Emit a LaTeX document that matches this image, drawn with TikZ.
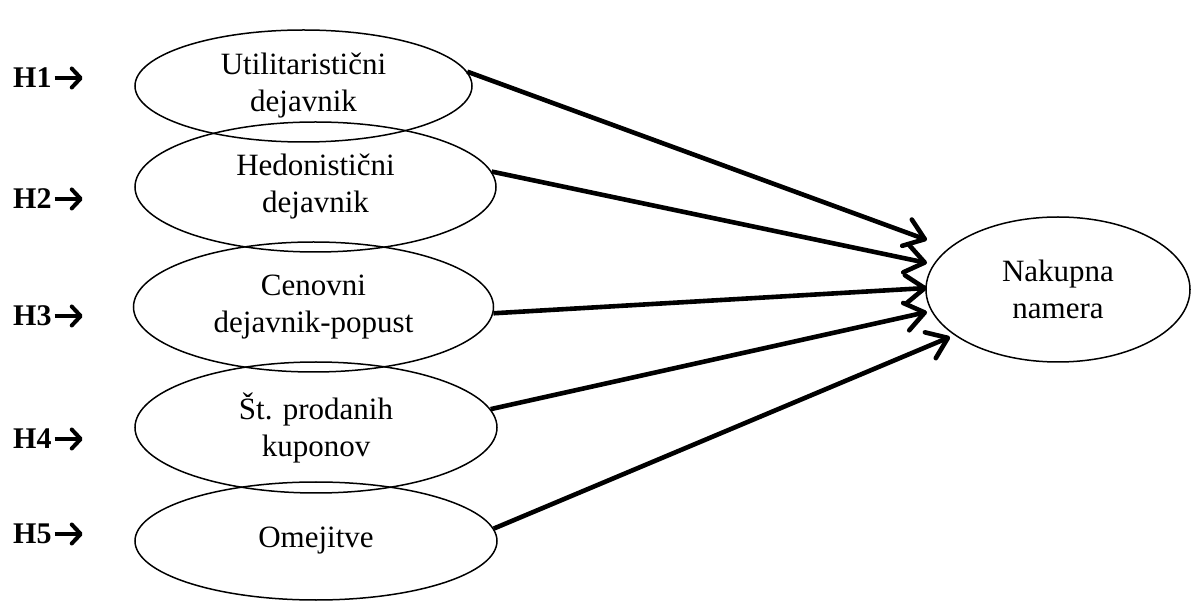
\documentclass[tikz,border=0pt]{standalone}
\usepackage{fontspec}
\setmainfont{Liberation Serif}
\usetikzlibrary{shapes.geometric,arrows.meta}
\tikzset{
  factor/.style={ellipse, draw=black, line width=1.5pt, inner sep=0pt, align=center,
    font=\fontsize{31pt}{37pt}\selectfont},
  hlabel/.style={anchor=west, inner sep=0pt, font=\fontsize{30pt}{36pt}\selectfont\bfseries},
  hsign/.style={line width=4pt, -{Straight Barb[length=9pt,width=19pt,line width=4pt,round]}},
  link/.style={line width=4.6pt, -{Straight Barb[length=19pt,width=28pt,line width=4.6pt,round]}}
}
\begin{document}
\begin{tikzpicture}[x=1pt,y=-1pt]
\useasboundingbox (0,0) rectangle (1192,601);
\node[factor, minimum width=337pt, minimum height=112pt] (u) at (303.5,86) {Utilitaristični\\dejavnik};
\node[factor, minimum width=361pt, minimum height=130pt] (h) at (315.5,187) {Hedonistični\\dejavnik};
\node[factor, minimum width=360pt, minimum height=130pt] (c) at (313.5,307) {Cenovni\\dejavnik-popust};
\node[factor, minimum width=362pt, minimum height=131pt] (s) at (316,427.5) {Št. prodanih\\kuponov};
\node[factor, minimum width=362pt, minimum height=118pt] (o) at (316,541) {Omejitve};
\node[factor, minimum width=264pt, minimum height=145pt] (n) at (1058,289.5) {Nakupna\\namera};
\node[hlabel] (h1) at (13,78) {H1};
\node[hlabel] (h2) at (13,199) {H2};
\node[hlabel] (h3) at (13,316) {H3};
\node[hlabel] (h4) at (13,439) {H4};
\node[hlabel] (h5) at (13,534) {H5};
\draw[hsign] ([xshift=3pt]h1.east) -- ++(28,0);
\draw[hsign] ([xshift=3pt]h2.east) -- ++(28,0);
\draw[hsign] ([xshift=3pt]h3.east) -- ++(28,0);
\draw[hsign] ([xshift=3pt]h4.east) -- ++(28,0);
\draw[hsign] ([xshift=3pt]h5.east) -- ++(28,0);
\coordinate (t1) at (927,240);
\coordinate (t2) at (927,263);
\coordinate (t3) at (927,288);
\coordinate (t4) at (927,312);
\coordinate (t5) at (950,337);
\draw[link] (u.5) -- (t1);
\draw[link] (h.5) -- (t2);
\draw[link] (c.-2) -- (t3);
\draw[link] (s.6) -- (t4);
\draw[link] (o.4) -- (t5);
\end{tikzpicture}
\end{document}
